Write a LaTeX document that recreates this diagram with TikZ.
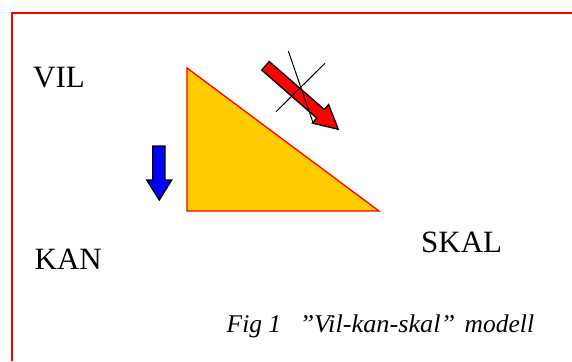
\documentclass[tikz,border=0pt]{standalone}
\usepackage{fontspec}
\setmainfont{Liberation Serif}
\definecolor{trifill}{RGB}{255,204,0}
\begin{document}
\begin{tikzpicture}[x=1pt,y=-1pt,
  lbl/.style={anchor=base west,inner sep=0pt,font=\fontsize{31}{31}\selectfont},
  captxt/.style={anchor=base west,inner sep=0pt,font=\fontsize{25.5}{26}\selectfont\itshape},
  outl/.style={draw=black,line width=1.3pt,line join=miter}]
\useasboundingbox (0,0) rectangle (572,361);
\fill[white] (0,0) rectangle (572,361);
% frame
\draw[red,line width=1.5pt] (12,361) -- (12,13) -- (572,13);
% triangle
\filldraw[fill=trifill,draw=red,line width=1.3pt] (187,68) -- (187,211) -- (379,211) -- cycle;
% blue arrow
\filldraw[outl,fill=blue] (152.7,146) -- (165,146) -- (165,180) -- (171.7,180) -- (159.3,200) -- (146.7,180) -- (152.7,180) -- cycle;
% red arrow
\filldraw[outl,fill=red] (261.75,70.1) -- (269.25,61.5) -- (324.25,109.5) -- (328.6,104.5) -- (338.3,129.3) -- (312.4,123.1) -- (316.75,118.1) -- cycle;
% cross
\draw[black,line width=1pt] (288.3,51) -- (312.7,121.7);
\draw[black,line width=1pt] (325,63.3) -- (276,111.7);
% labels
\node[lbl] (vil) at (33,87) {VIL};
\node[lbl] (kan) at (34.5,269) {KAN};
\node[lbl] (skal) at (421,252) {SKAL};
\node[captxt] (caption) at (226.5,332.5) {\makebox[72.8pt][l]{Fig 1}\resizebox{155.7pt}{\height}{”Vil-kan-skal”}\hspace{9.5pt}modell};
\end{tikzpicture}
\end{document}
